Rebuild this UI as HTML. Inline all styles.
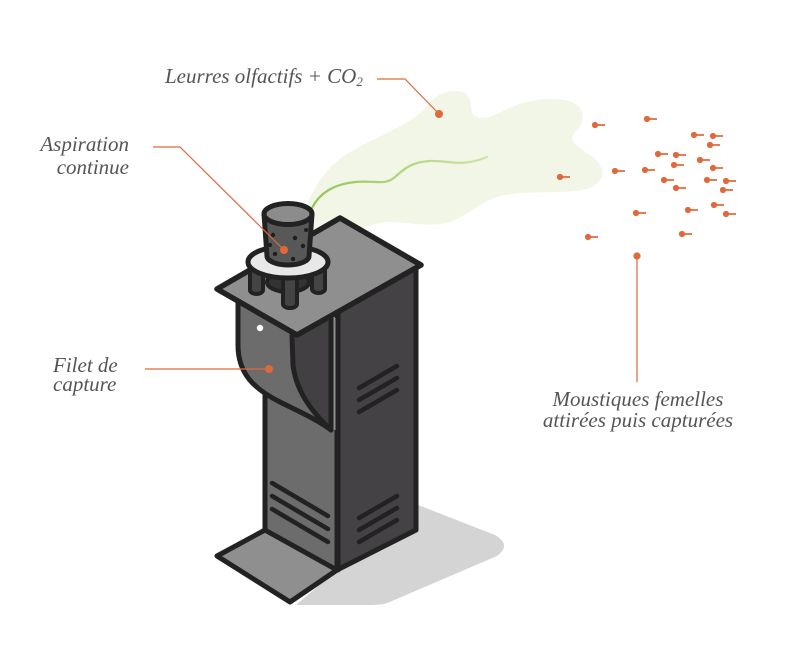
<!DOCTYPE html>
<html><head><meta charset="utf-8">
<style>
html,body{margin:0;padding:0;background:#fff;}
svg{display:block;}
text{font-family:"Liberation Serif",serif;font-style:italic;fill:#555;font-size:21px;}
</style></head>
<body>
<svg width="800" height="653" viewBox="0 0 800 653" xmlns="http://www.w3.org/2000/svg">
<defs>
<linearGradient id="gl" x1="312" y1="0" x2="487" y2="0" gradientUnits="userSpaceOnUse">
<stop offset="0" stop-color="#96c552"/>
<stop offset="1" stop-color="#cfe4aa"/>
</linearGradient>
</defs>
<!-- shadow -->
<path d="M413 503 L495 535 Q512 545 497 556 L392 601 Q385 605 372 605 L296 605 L337 570 Z" fill="#d4d4d4"/>
<!-- plume -->
<path d="M300 235 C302 205 320 170 350 152 C380 135 410 125 425 108 C435 95 445 90 458 91 C472 92 470 105 472 112 C476 122 490 118 505 110 C525 100 545 97 565 100 C585 104 588 120 575 132 C568 140 575 145 590 155 C605 165 608 180 590 188 C570 195 530 190 505 195 C480 200 470 215 450 222 C430 228 410 222 390 222 C370 222 350 235 330 242 Z" fill="#f1f6e7"/>
<path d="M312 208 C320 192 335 184 355 182 C375 180 385 186 395 177 C405 168 412 162 430 161 C448 160 460 168 487 157" fill="none" stroke="url(#gl)" stroke-width="2.2" stroke-linecap="round"/>

<g stroke="#222" stroke-width="5" stroke-linejoin="round" stroke-linecap="round">
<!-- base plate -->
<polygon points="217,556 265,530 337,570 290,602" fill="#8f8f8f"/>
<!-- body left face -->
<polygon points="265,312 337,352 337,570 265,530" fill="#6c6c6c"/>
<!-- body right face -->
<polygon points="337,312 416,268 416,530 337,570" fill="#444244"/>
</g>
<!-- light strip -->
<rect x="333" y="318" width="3" height="112" fill="#8e8e8e"/>
<g stroke="#222" stroke-width="4.5" stroke-linecap="round" fill="none">
<line x1="272" y1="483" x2="328" y2="516"/>
<line x1="272" y1="496" x2="328" y2="529"/>
<line x1="272" y1="509" x2="328" y2="542"/>
<line x1="359" y1="518" x2="397" y2="496"/>
<line x1="359" y1="530" x2="397" y2="508"/>
<line x1="359" y1="542" x2="397" y2="520"/>
<line x1="359" y1="388" x2="397" y2="366"/>
<line x1="359" y1="400" x2="397" y2="378"/>
<line x1="359" y1="412" x2="397" y2="390"/>
</g>
<!-- net panel -->
<path d="M238 300 L238 345 C238 372 252 388 280 402 C300 412 318 420 331 430 C310 410 296 390 293 365 L292 330 Z" fill="#6c6c6c"/>
<path d="M292 330 L293 365 C296 390 310 410 331 430 L331 312 Z" fill="#424042"/>
<g stroke="#222" stroke-width="5" stroke-linejoin="round" stroke-linecap="round" fill="none">
<path d="M238 300 L238 345 C238 372 252 388 280 402 C300 412 318 420 331 430 L331 312"/>
<path d="M292 336 L293 365 C296 390 310 410 331 430"/>
<line x1="338" y1="312" x2="338" y2="570"/>
</g>
<circle cx="260" cy="328" r="3.2" fill="#fff"/>
<!-- lid -->
<polygon points="217,289 340,218 421,265 297,335" fill="#8f8f8f" stroke="#222" stroke-width="5.5" stroke-linejoin="round"/>
<!-- cylinder assembly -->
<g stroke="#222" stroke-width="4" stroke-linejoin="round">
<ellipse cx="288" cy="282" rx="21" ry="10" fill="#333"/>
<path d="M250 262 L250 290 A6.5 4 0 0 0 263 290 L263 262 Z" fill="#444"/>
<path d="M312 262 L312 289 A6.5 4 0 0 0 325 289 L325 262 Z" fill="#444"/>
<path d="M283 272 L283 304 A7 4 0 0 0 297 304 L297 272 Z" fill="#444"/>
</g>
<ellipse cx="288" cy="262" rx="40" ry="16" fill="#e8e8e8" stroke="#222" stroke-width="5"/>
<path d="M264 214 L267 256 A21 9 0 0 0 309 256 L312 214 Z" fill="#585858" stroke="#222" stroke-width="5" stroke-linejoin="round"/>
<g fill="#1e1e1e">
<circle cx="273" cy="235" r="2.2"/><circle cx="295" cy="238" r="2.2"/>
<circle cx="303" cy="246" r="2.2"/><circle cx="275" cy="254" r="2.2"/>
<circle cx="293" cy="259" r="2.2"/><circle cx="306" cy="230" r="2"/>
<circle cx="270" cy="245" r="2"/>
</g>
<ellipse cx="288" cy="214" rx="24" ry="10.5" fill="#8c8c8c" stroke="#222" stroke-width="5"/>

<!-- leaders -->
<g stroke="#e0693c" stroke-width="1.2" fill="none">
<polyline points="377,79 405,79 439,114"/>
<polyline points="153,147 180,147 284,250"/>
<line x1="145" y1="369" x2="269" y2="369"/>
<line x1="637" y1="256" x2="637" y2="382"/>
</g>
<g fill="#e0693c">
<circle cx="439" cy="114" r="4"/>
<circle cx="284" cy="250" r="4"/>
<circle cx="269" cy="369" r="4"/>
<circle cx="637" cy="256" r="3.6"/>
</g>
<!-- mosquitoes -->
<g fill="#e0693c" stroke="#e0693c" stroke-width="1.8">
<path d="M595 125h10M647 119h10M694 135h10M713 136h10M710 145h10M658 154h10M676 155h10M674 165h10M700 160h10M615 171h10M645 170h10M713 168h10M664 180h10M707 180h10M726 181h10M676 188h10M723 190h10M636 213h10M688 210h10M714 205h10M726 214h10M588 237h10M682 234h10M560 177h10"/>
</g>
<g fill="#e0693c">
<circle cx="595" cy="125" r="3.1"/><circle cx="647" cy="119" r="3.1"/><circle cx="694" cy="135" r="3.1"/>
<circle cx="713" cy="136" r="3.1"/><circle cx="710" cy="145" r="3.1"/><circle cx="658" cy="154" r="3.1"/>
<circle cx="676" cy="155" r="3.1"/><circle cx="674" cy="165" r="3.1"/><circle cx="700" cy="160" r="3.1"/>
<circle cx="615" cy="171" r="3.1"/><circle cx="645" cy="170" r="3.1"/><circle cx="713" cy="168" r="3.1"/>
<circle cx="664" cy="180" r="3.1"/><circle cx="707" cy="180" r="3.1"/><circle cx="726" cy="181" r="3.1"/>
<circle cx="676" cy="188" r="3.1"/><circle cx="723" cy="190" r="3.1"/><circle cx="636" cy="213" r="3.1"/>
<circle cx="688" cy="210" r="3.1"/><circle cx="714" cy="205" r="3.1"/><circle cx="726" cy="214" r="3.1"/>
<circle cx="588" cy="237" r="3.1"/><circle cx="682" cy="234" r="3.1"/><circle cx="560" cy="177" r="3.1"/>
</g>

<!-- labels -->
<text x="165" y="83">Leurres olfactifs + CO<tspan font-size="13" dy="3">2</tspan></text>
<text x="129" y="151" text-anchor="end">Aspiration</text>
<text x="129" y="174" text-anchor="end">continue</text>
<text x="53" y="372">Filet de</text>
<text x="53" y="391">capture</text>
<text x="638" y="406" text-anchor="middle">Moustiques femelles</text>
<text x="638" y="427" text-anchor="middle">attirées puis capturées</text>
</svg>
</body></html>
